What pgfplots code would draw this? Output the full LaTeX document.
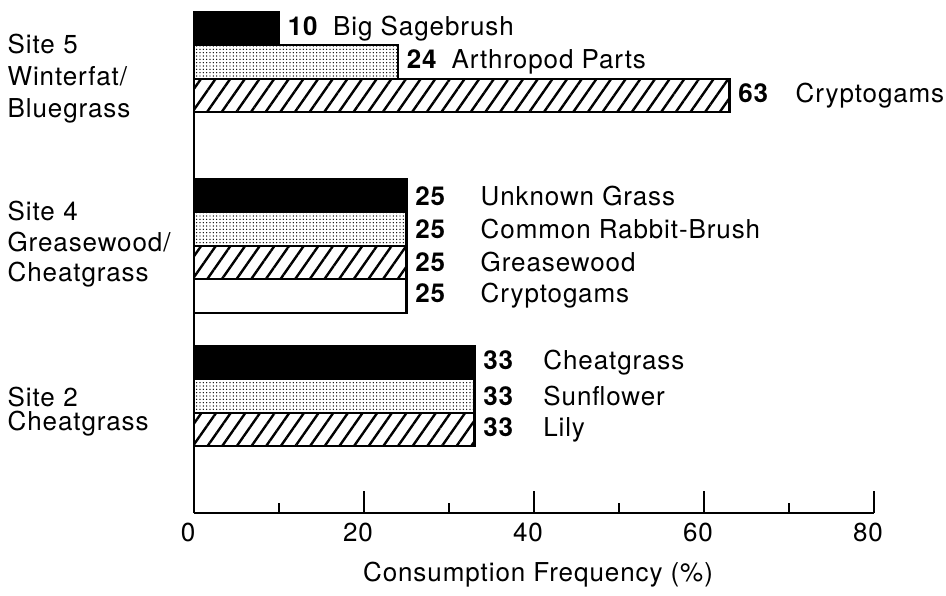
\documentclass[border=0pt]{standalone}
\usepackage{pgfplots}
\pgfplotsset{compat=1.18}
\usepackage{fontspec}
\setmainfont[LetterSpace=3.5]{TeX Gyre Heros}
\usetikzlibrary{patterns.meta}
\begin{document}
\begin{tikzpicture}[font=\fontsize{19.5pt}{23pt}\selectfont]
\useasboundingbox (-145.5pt,-62.25pt) rectangle (564pt,384.75pt);
\begin{axis}[
  scale only axis, width=510pt, height=375.75pt,
  xmin=0, xmax=80, ymin=0, ymax=15,
  clip=false, axis on top,
  axis x line=bottom, axis y line=left,
  axis line style={-, line width=2pt, black},
  xtick={0,20,40,60,80}, minor xtick={10,30,50,70},
  tick align=inside, major tick length=16.5pt, minor tick length=7.5pt,
  every tick/.append style={line width=1.5pt, black},
  xticklabel style={yshift=-3.8pt, xshift=-4.5pt},
  /pgf/number format/assume math mode=true,
  ytick={3.05,8.05,13.0},
  yticklabels={{Site 2\\[-5pt]Cheatgrass},{Site 4\\Greasewood/\\Cheatgrass},{Site 5\\[1pt]Winterfat/\\[1pt]Bluegrass}},
  yticklabel style={align=left, text width=135pt, anchor=west, inner sep=0pt, xshift=-140pt},
  ytick style={draw=none},
  xlabel={Consumption Frequency (\%)},
  xlabel style={at={(axis description cs:0.5,0)}, anchor=base, yshift=-51pt, xshift=3pt},
  mybar/.style={xbar, bar width=1, bar shift=0pt, draw=black, line width=1.6pt,
    nodes near coords, point meta=explicit symbolic,
    nodes near coords={\pgfplotspointmeta},
    every node near coord/.append style={anchor=west, black, xshift=2.5pt}},
]
% black bars
\addplot[mybar, fill=black] coordinates {
  (10,14.5) [\textbf{10}\hspace{11pt}Big Sagebrush]
  (25,9.5)  [\textbf{25}\hspace{26pt}Unknown Grass]
  (33,4.5)  [\textbf{33}\hspace{22pt}Cheatgrass]
};
% dotted bars
\addplot[mybar, fill=white, postaction={pattern={Dots[distance=2.5pt,radius=0.55pt]}}] coordinates {
  (24,13.5) [\textbf{24}\hspace{10.5pt}Arthropod Parts]
  (25,8.5)  [\textbf{25}\hspace{26pt}Common Rabbit-Brush]
  (33,3.5)  [\textbf{33}\hspace{22pt}Sunflower]
};
% hatched bars
\addplot[mybar, fill=white, postaction={pattern={Lines[angle=55,distance=9pt,line width=1.8pt]}}] coordinates {
  (63,12.5) [\textbf{63}\hspace{20pt}Cryptogams]
  (25,7.5)  [\textbf{25}\hspace{26pt}Greasewood]
  (33,2.5)  [\textbf{33}\hspace{22pt}Lily]
};
% white bar
\addplot[mybar, fill=white] coordinates {
  (25,6.5) [\textbf{25}\hspace{26pt}Cryptogams]
};
\end{axis}
\end{tikzpicture}
\end{document}
